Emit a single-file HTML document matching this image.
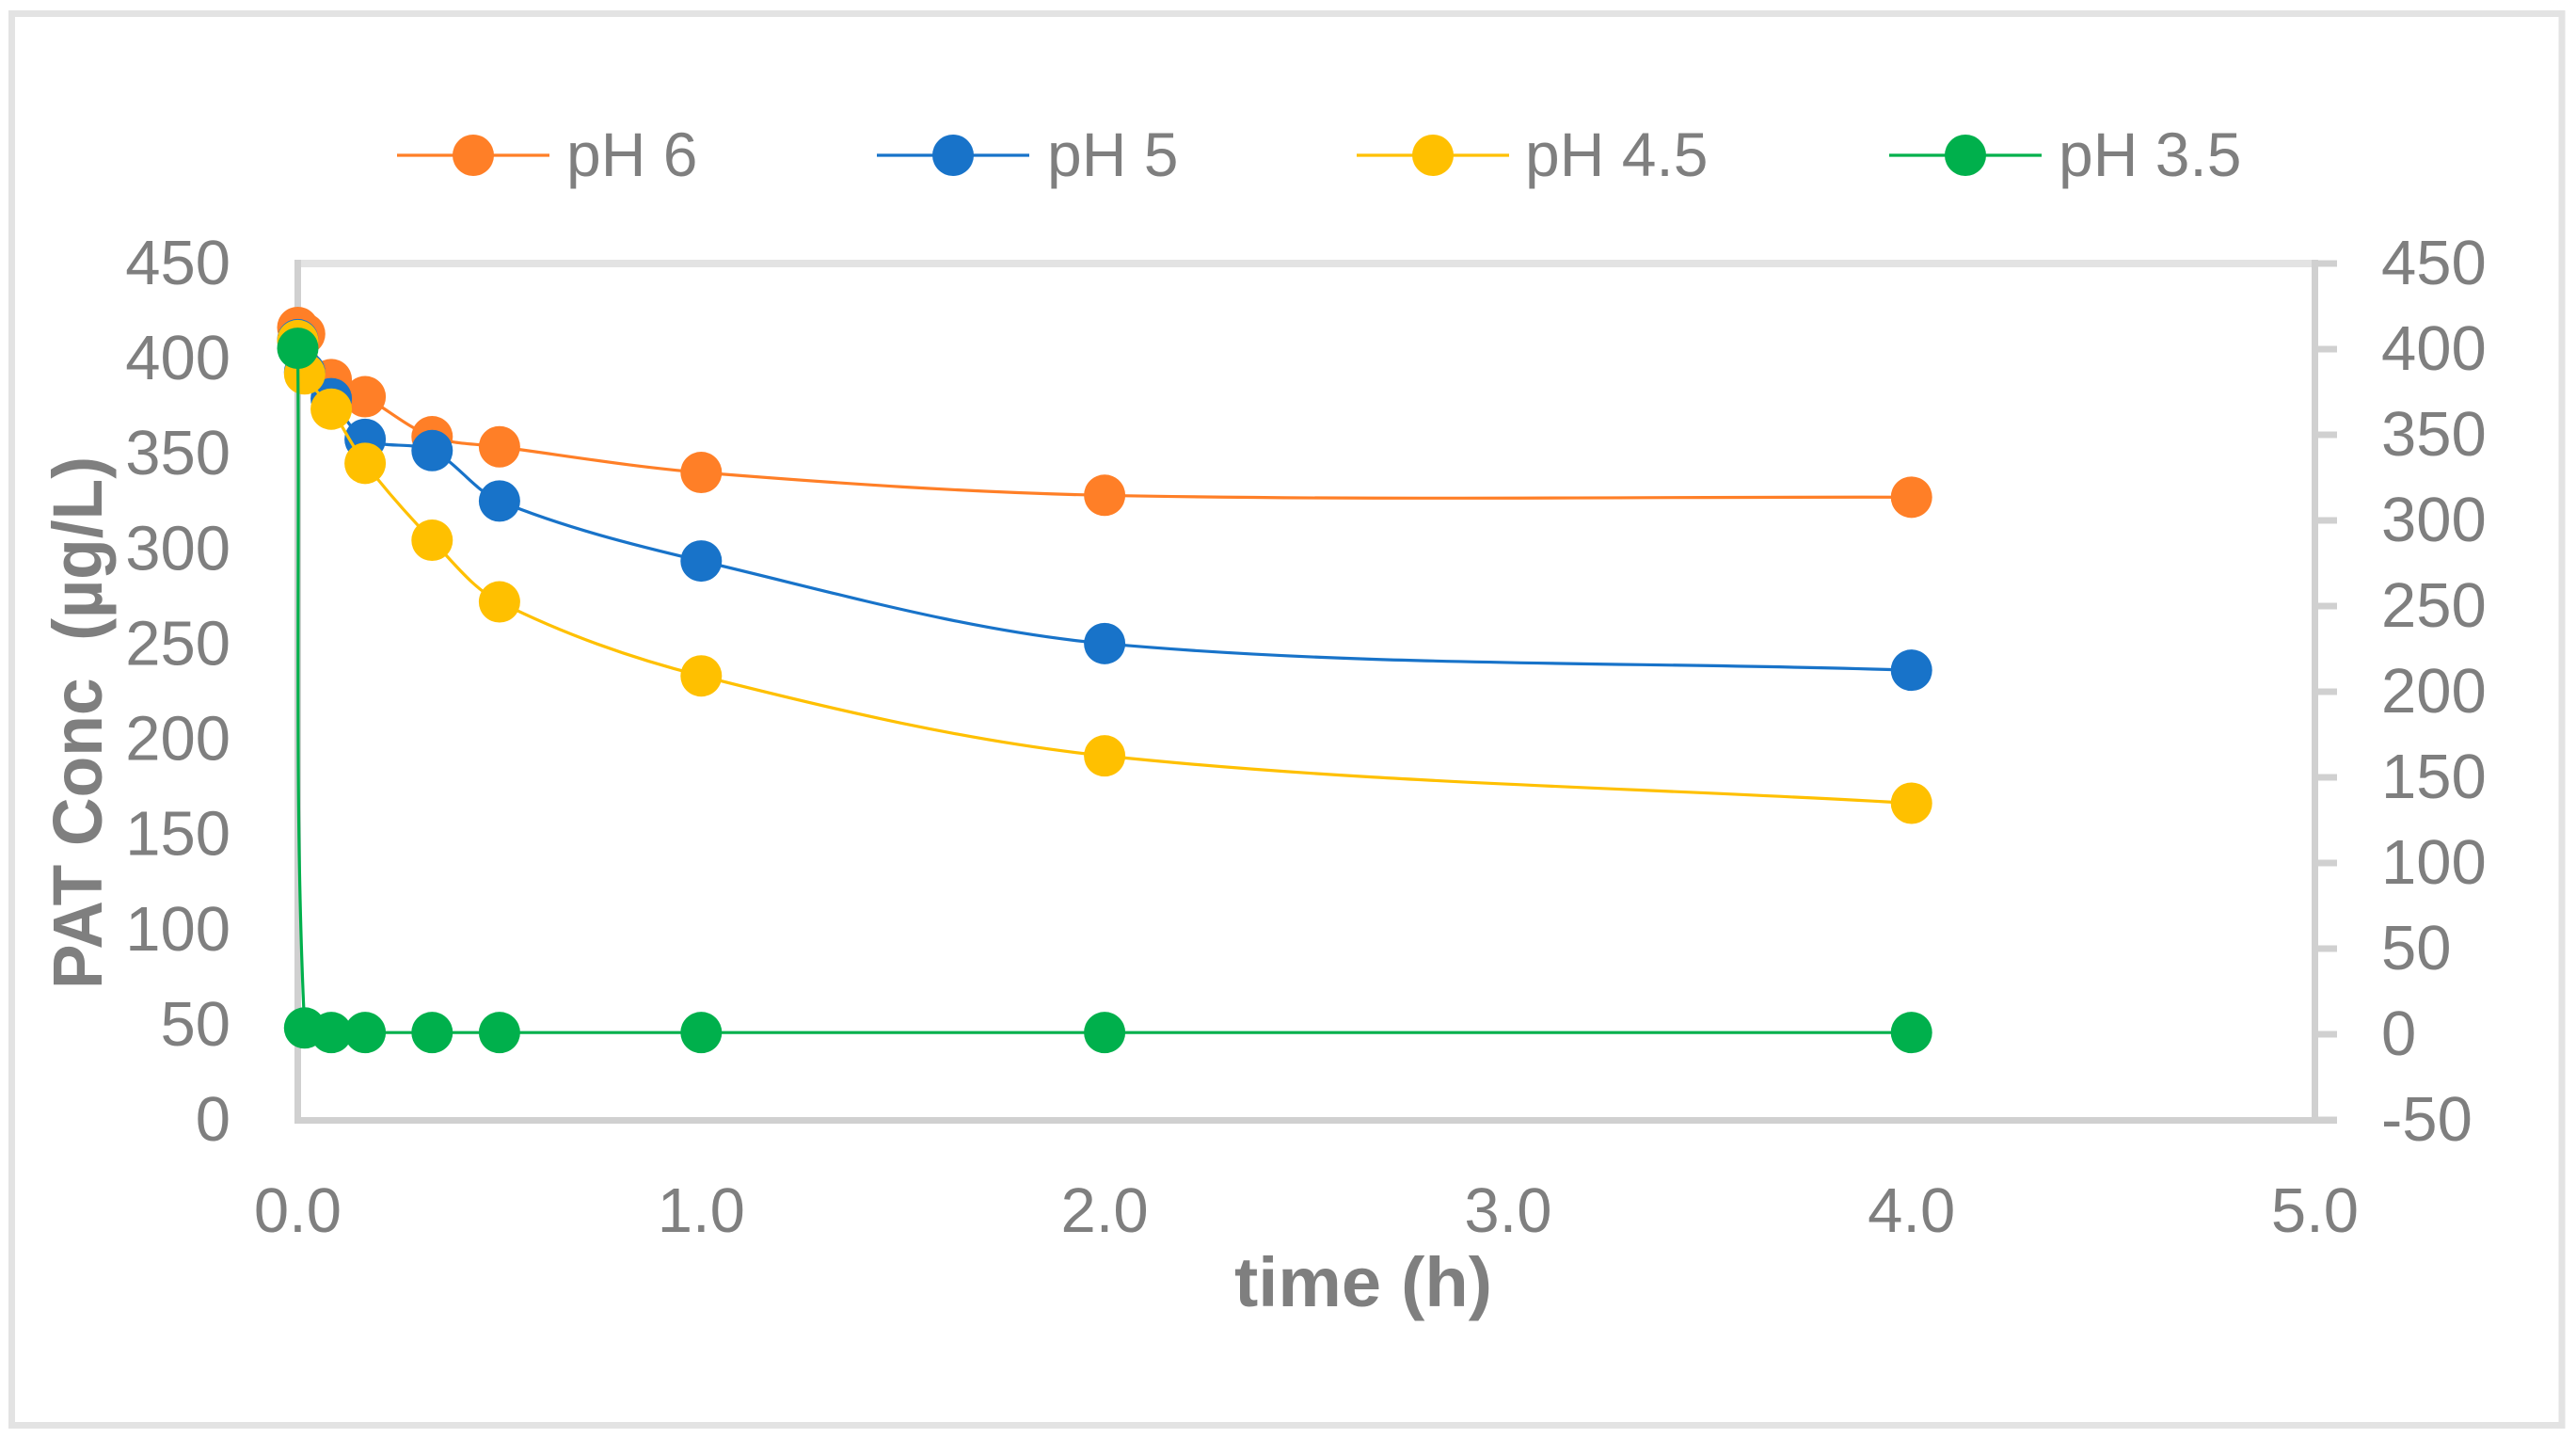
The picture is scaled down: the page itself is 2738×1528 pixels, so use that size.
<!DOCTYPE html>
<html lang="en">
<head>
<meta charset="utf-8">
<title>PAT concentration over time</title>
<style>
html,body{margin:0;padding:0;background:#fff;width:2738px;height:1528px;overflow:hidden}
svg{display:block}
text{font-family:"Liberation Sans",sans-serif;fill:#7f7f7f}
.tick{font-size:67px}
.legend-text{font-size:66px}
.title{font-size:74px;font-weight:bold}
</style>
</head>
<body>
<svg id="chart" width="2738" height="1528" viewBox="0 0 2738 1528" xmlns="http://www.w3.org/2000/svg">
  <rect x="12.5" y="14.5" width="2710.5" height="1500" fill="#fff" stroke="#e3e3e3" stroke-width="7"/>
  <line x1="317" y1="280" x2="2460" y2="280" stroke="#e3e3e3" stroke-width="8"/>
  <g id="axes"></g>
  <g id="series"></g>
  <g id="legend"></g>
  <text class="title" x="1449" y="1388" text-anchor="middle" textLength="274" lengthAdjust="spacingAndGlyphs">time (h)</text>
  <text class="title" transform="translate(108 768) rotate(-90)" text-anchor="middle" textLength="566" lengthAdjust="spacingAndGlyphs" style="white-space:pre" xml:space="preserve">PAT Conc  (µg/L)</text>
</svg>
<script>
const timeHours = [0, 0.017, 0.083, 0.167, 0.333, 0.5, 1, 2, 4];
const seriesNames = ['pH 6', 'pH 5', 'pH 4.5', 'pH 3.5'];
const ph6Values = [416.4, 413, 389, 380, 359, 353.7, 340.2, 328.2, 327.2];
const ph5Values = [410, 393, 379, 357.6, 351.7, 325.2, 293.7, 250.3, 236.3];
const ph45Values = [409.5, 392, 373.5, 345, 304.6, 272.2, 233.3, 191.3, 166.4];
const ph35Values = [400.5, 3.7, 1, 1, 1, 1, 1, 1, 1];
const xTickValues = [0, 1, 2, 3, 4, 5];
const leftTickValues = [0, 50, 100, 150, 200, 250, 300, 350, 400, 450];
const rightTickValues = [-50, 0, 50, 100, 150, 200, 250, 300, 350, 400, 450];

const NS = 'http://www.w3.org/2000/svg';
const PLOT = {left: 316.5, right: 2460.5, top: 280, bottom: 1190};
const COLORS = ['#ff7f27', '#1873c9', '#ffc000', '#00b04c'];
const AXIS_COLOR = '#d0d0d0';

function xScale(v) { return PLOT.left + (v - 0) / 5 * (PLOT.right - PLOT.left); }
function yLeft(v) { return PLOT.bottom - (v - 0) / 450 * (PLOT.bottom - PLOT.top); }
function yRight(v) { return PLOT.bottom - (v + 50) / 500 * (PLOT.bottom - PLOT.top); }

function make(tag, attrs, parent) {
  const el = document.createElementNS(NS, tag);
  for (const k in attrs) el.setAttribute(k, attrs[k]);
  parent.appendChild(el);
  return el;
}

function controlOffset(xs, ys, i, toward) {
  const prev = Math.max(i - 1, 0), next = Math.min(i + 1, xs.length - 1);
  const dPrev = Math.hypot(xs[i] - xs[prev], ys[i] - ys[prev]);
  const dNext = Math.hypot(xs[next] - xs[i], ys[next] - ys[i]);
  const share = (toward === 'next' ? dNext : dPrev) / (dPrev + dNext);
  return [(xs[next] - xs[prev]) * share / 3, (ys[next] - ys[prev]) * share / 3];
}

function smoothPath(xs, ys) {
  let d = 'M' + xs[0].toFixed(2) + ' ' + ys[0].toFixed(2);
  for (let i = 0; i < xs.length - 1; i++) {
    const a = controlOffset(xs, ys, i, 'next');
    const b = controlOffset(xs, ys, i + 1, 'prev');
    d += ' C' + (xs[i] + a[0]).toFixed(2) + ' ' + (ys[i] + a[1]).toFixed(2) + ' ' + (xs[i + 1] - b[0]).toFixed(2) + ' ' + (ys[i + 1] - b[1]).toFixed(2) + ' ' + xs[i + 1].toFixed(2) + ' ' + ys[i + 1].toFixed(2);
  }
  return d;
}

const axes = document.getElementById('axes');

const leftAxis = make('line', {x1: 316.5, y1: PLOT.top - 4, x2: 316.5, y2: 1194, stroke: AXIS_COLOR, 'stroke-width': 7}, axes);



const rightAxis = make('line', {x1: 2460.5, y1: PLOT.top - 4, x2: 2460.5, y2: 1194, stroke: AXIS_COLOR, 'stroke-width': 7}, axes);



const xAxis = make('line', {x1: 313, y1: 1190.5, x2: 2484, y2: 1190.5, stroke: AXIS_COLOR, 'stroke-width': 7}, axes);



xTickValues.forEach(function (v) {
  const t = make('text', {class: 'tick', x: xScale(v), y: 1309, 'text-anchor': 'middle'}, axes);
  
  
  t.textContent = v.toFixed(1);
});

leftTickValues.forEach(function (v) {
  const t = make('text', {class: 'tick', x: 245, y: yLeft(v) + 22, 'text-anchor': 'end'}, axes);
  
  
  t.textContent = String(v);
});

rightTickValues.forEach(function (v) {
  const m = make('line', {x1: 2460, y1: yRight(v), x2: 2484, y2: yRight(v), stroke: AXIS_COLOR, 'stroke-width': 7}, axes);
  
  
  const t = make('text', {class: 'tick', x: 2531, y: yRight(v) + 22}, axes);
  
  
  t.textContent = String(v);
});

const seriesRoot = document.getElementById('series');
const allValues = [ph6Values, ph5Values, ph45Values, ph35Values];
const allScales = [yLeft, yLeft, yLeft, yRight];

allValues.forEach(function (values, s) {
  const g = make('g', {}, seriesRoot);
  
  
  const xs = timeHours.map(xScale);
  const ys = values.map(allScales[s]);
  const line = make('path', {d: smoothPath(xs, ys), fill: 'none', stroke: COLORS[s], 'stroke-width': 3.2}, g);
  
  
  xs.forEach(function (x, i) {
    const c = make('circle', {cx: x, cy: ys[i], r: 22, fill: COLORS[s]}, g);
    
    
  });
});

const legendRoot = document.getElementById('legend');
const legendLineStart = [422, 932, 1442, 2008];
const legendText = [602, 1113, 1621, 2188];
seriesNames.forEach(function (name, s) {
  const g = make('g', {}, legendRoot);
  
  
  const x0 = legendLineStart[s];
  const l = make('line', {x1: x0, y1: 165, x2: x0 + 162, y2: 165, stroke: COLORS[s], 'stroke-width': 3.2}, g);
  
  
  const c = make('circle', {cx: x0 + 81, cy: 165, r: 22, fill: COLORS[s]}, g);
  
  
  const t = make('text', {class: 'legend-text', x: legendText[s], y: 187}, g);
  
  
  t.textContent = name;
});
</script>
</body>
</html>
